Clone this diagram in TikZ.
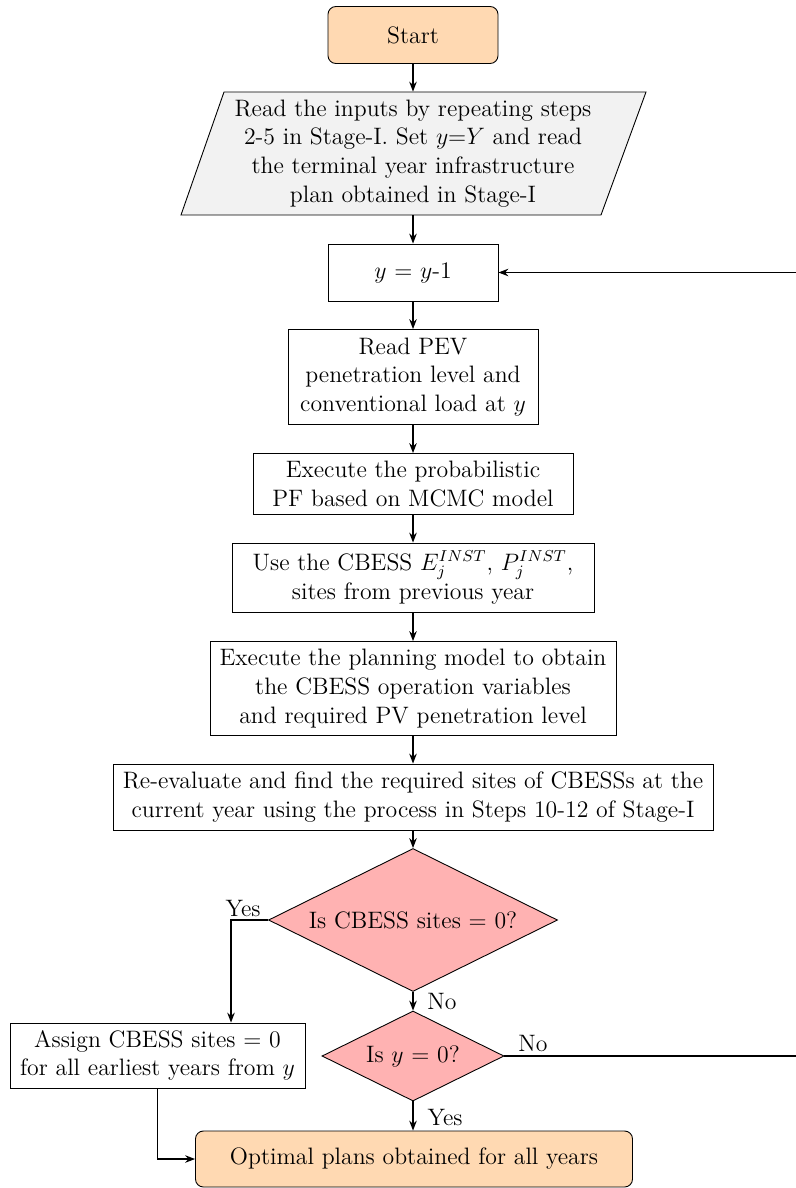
\documentclass[tikz,border=0pt,12pt]{standalone}
\usetikzlibrary{shapes.geometric,arrows.meta}
\newcommand{\pxu}{0.505pt}
\tikzset{
  base/.style={draw, align=center, inner sep=0pt, line width=0.45pt},
  terminal/.style={base, rounded corners=4pt, fill=orange!30},
  process/.style={base, rectangle},
  inputtext/.style={align=center, inner sep=0pt},
  inputshape/.style={draw, line width=0.45pt, fill=gray!10},
  decision/.style={base, diamond, shape aspect=2, fill=red!30},
  arr/.style={-{Stealth[length=5pt,width=3.8pt]}, line width=0.75pt},
  lbl/.style={inner sep=0pt}
}
\begin{document}
\begin{tikzpicture}[x=\pxu, y=-\pxu]
\useasboundingbox (0,0) rectangle (795,1188);

% input parallelogram outline
\coordinate (pTL) at (224,92);
\coordinate (pTR) at (646,92);
\coordinate (pBR) at (601,215);
\coordinate (pBL) at (181,215);
\draw[inputshape] (pTL) -- (pTR) -- (pBR) -- (pBL) -- cycle;

% main column
\node[terminal, minimum width=170*\pxu, minimum height=57*\pxu] (start) at (413,35) {Start};
\node[inputtext, minimum width=380*\pxu, minimum height=123*\pxu] (inp) at (413,153.5)
  {Read the inputs by repeating steps\\ 2-5 in Stage-I. Set $y$=$Y$ and read\\ the terminal year infrastructure\\ plan obtained in Stage-I};
\node[process, minimum width=170*\pxu, minimum height=57*\pxu] (ym1) at (413,272.5) {$y$ = $y$-1};
\node[process, minimum width=250*\pxu, minimum height=95*\pxu] (pev) at (413,377)
  {Read PEV\\ penetration level and\\ conventional load at $y$};
\node[process, minimum width=320*\pxu, minimum height=61*\pxu] (pf) at (413,484)
  {Execute the probabilistic\\ PF based on MCMC model};
\node[process, minimum width=362*\pxu, minimum height=69*\pxu] (use) at (413,577.5)
  {Use the CBESS $E_j^{INST}$, $P_j^{INST}$,\\ sites from previous year};
\node[process, minimum width=406*\pxu, minimum height=94*\pxu] (plan) at (413,688.5)
  {Execute the planning model to obtain\\ the CBESS operation variables\\ and required PV penetration level};
\node[process, minimum width=600*\pxu, minimum height=66*\pxu] (reev) at (413,797)
  {Re-evaluate and find the required sites of CBESSs at the\\ current year using the process in Steps 10-12 of Stage-I};
\node[decision, minimum width=289*\pxu, minimum height=143*\pxu] (d1) at (413,920)
  {Is CBESS sites = 0?};
\node[decision, minimum width=182*\pxu, minimum height=90*\pxu] (d2) at (413,1056)
  {Is $y$ = 0?};
\node[process, minimum width=295*\pxu, minimum height=65*\pxu] (assign) at (157.5,1055.5)
  {Assign CBESS sites = 0\\ for all earliest years from $y$};
\node[terminal, minimum width=437*\pxu, minimum height=56*\pxu] (opt) at (414,1159)
  {Optimal plans obtained for all years};

% branch labels
\node[lbl] (yes1) at (243,908) {Yes};
\node[lbl] (no1) at (442,1001) {No};
\node[lbl] (no2) at (533,1043) {No};
\node[lbl] (yes2) at (445,1117) {Yes};

% bend points
\coordinate (yesbend) at (231,920);
\coordinate (loopR) at (830,1056);

% connectors
\draw[arr] (start) -- (inp);
\draw[arr] (inp) -- (ym1);
\draw[arr] (ym1) -- (pev);
\draw[arr] (pev) -- (pf);
\draw[arr] (pf) -- (use);
\draw[arr] (use) -- (plan);
\draw[arr] (plan) -- (reev);
\draw[arr] (reev) -- (d1);
\draw[arr] (d1) -- (d2);
\draw[arr] (d2.south) -- (d2.south |- opt.north);
\draw[arr] (d1.west) -- (yesbend) -- (yesbend |- assign.north);
\draw[arr] (assign.south) |- (opt.west);
\draw[arr] (d2.east) -- (loopR) |- (ym1.east);
\end{tikzpicture}
\end{document}
